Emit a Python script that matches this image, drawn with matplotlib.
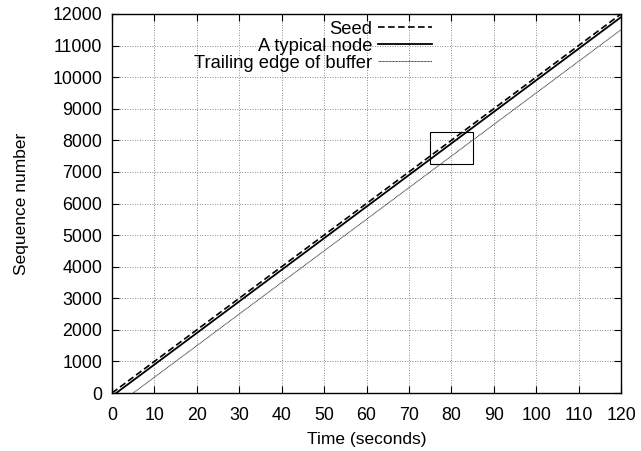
import matplotlib
matplotlib.use("Agg")
import matplotlib.pyplot as plt
from matplotlib.patches import Rectangle

# line endpoints (time s, sequence number)
seed_t = [0, 120]
seed_seq = [0, 12000]
node_t = [1, 120]
node_seq = [0, 11900]
trail_t = [5, 120]
trail_seq = [0, 11500]

# zoom box (time range, sequence range)
box_t = [75, 85]
box_seq = [7250, 8250]

xticks = list(range(0, 121, 10))
yticks = list(range(0, 12001, 1000))

plt.rcParams['font.family'] = ['Liberation Sans', 'DejaVu Sans']

fig = plt.figure(figsize=(6.41, 4.51), dpi=100)
ax = fig.add_axes([112 / 641, (451 - 393) / 451, (621 - 112) / 641, (393 - 14) / 451])

ax.plot(seed_t, seed_seq, color='black', linestyle=(0, (4, 2)), linewidth=1.2, label='Seed')
ax.plot(node_t, node_seq, color='black', linestyle='-', linewidth=1.3, label='A typical node')
ax.plot(trail_t, trail_seq, color='#333333', linestyle=(0, (1, 0.5)), linewidth=0.7,
        label='Trailing edge of buffer')

ax.add_patch(Rectangle((box_t[0], box_seq[0]), box_t[1] - box_t[0], box_seq[1] - box_seq[0],
                       fill=False, edgecolor='black', linewidth=0.8))

ax.set_xlim(0, 120)
ax.set_ylim(0, 12000)
ax.set_xticks(xticks)
ax.set_yticks(yticks)
ax.tick_params(direction='in', top=True, right=True, length=5, labelsize=12.8, width=0.8)
ax.tick_params(axis='x', pad=10)
ax.tick_params(axis='y', pad=7)
ax.grid(True, color='#666666', linestyle=(0, (1, 2)), linewidth=0.6)
for s in ax.spines.values():
    s.set_linewidth(1.0)

ax.set_xlabel('Time (seconds)', fontsize=12.5, labelpad=6)
ax.set_ylabel('Sequence number', fontsize=12.5, labelpad=17)

leg = ax.legend(loc='upper right', bbox_to_anchor=(0.628, 0.982), markerfirst=False, frameon=False,
                fontsize=13.2, handlelength=2.9, handletextpad=0.33, labelspacing=0.0,
                borderaxespad=0, borderpad=0)

fig.savefig('out.png', dpi=100)
